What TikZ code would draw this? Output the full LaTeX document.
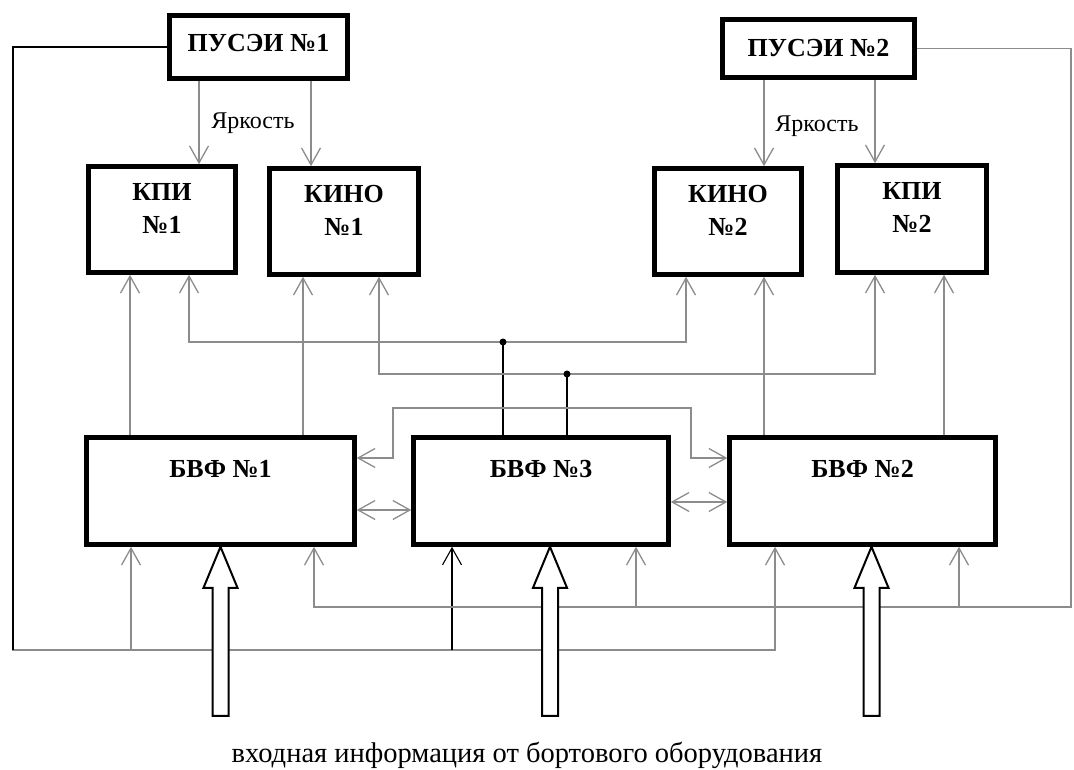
\documentclass[tikz,border=0pt]{standalone}
\usepackage{fontspec}
\setmainfont{Liberation Serif}
\usetikzlibrary{arrows.meta,calc}
\definecolor{wiregray}{RGB}{140,140,140}
\tikzset{
  blk/.style={draw=black,line width=4.6pt,fill=white,inner sep=0pt,
    align=center,font=\bfseries\fontsize{26}{33}\selectfont},
  twoline/.style={text width=130pt,text height=18pt,text depth=56pt},
  oneline/.style={text height=18pt,text depth=46pt},
  wire/.style={draw=wiregray,line width=1.3pt},
  wirek/.style={draw=black,line width=1.1pt},
  arr/.style={-{Straight Barb[length=17pt,width=19pt]}},
  darr/.style={{Straight Barb[length=17pt,width=19pt]}-{Straight Barb[length=17pt,width=19pt]}},
  lab/.style={font=\fontsize{24}{28}\selectfont,anchor=base,inner sep=0pt},
  bigin/.style={draw=black,line width=2pt,fill=white,line join=miter}
}
\begin{document}
\begin{tikzpicture}[x=1pt,y=-1pt]
  \useasboundingbox (0,0) rectangle (1074,770);
  % control panels
  \node[blk,minimum width=178pt,minimum height=63pt,text height=18pt,text depth=8pt] (pusA) at (258.5,47) {ПУСЭИ №1};
  \node[blk,minimum width=192pt,minimum height=58pt,text height=18pt,text depth=1pt] (pusB) at (818.5,48.5) {ПУСЭИ №2};
  % indicators
  \node[blk,twoline,minimum width=147pt,minimum height=106pt] (kpiA) at (162,219.5) {КПИ\\№1};
  \node[blk,twoline,minimum width=149pt,minimum height=106pt] (kinoA) at (344,221.5) {КИНО\\№1};
  \node[blk,twoline,minimum width=147pt,minimum height=106pt] (kinoB) at (728,221.5) {КИНО\\№2};
  \node[blk,twoline,minimum width=149pt,minimum height=107pt] (kpiB) at (912,219) {КПИ\\№2};
  % formers
  \node[blk,oneline,minimum width=268pt,minimum height=107pt] (bvfA) at (220.5,491) {БВФ №1};
  \node[blk,oneline,minimum width=255pt,minimum height=107pt] (bvfC) at (541,491) {БВФ №3};
  \node[blk,oneline,minimum width=266pt,minimum height=107pt] (bvfB) at (862.5,491) {БВФ №2};

  % brightness
  \draw[wire,arr] (199,0 |- pusA.south) -- (199,0 |- kpiA.north);
  \draw[wire,arr] (311,0 |- pusA.south) -- (311,0 |- kinoA.north);
  \draw[wire,arr] (764,0 |- pusB.south) -- (764,0 |- kinoB.north);
  \draw[wire,arr] (875,0 |- pusB.south) -- (875,0 |- kpiB.north);
  \node[lab] (brA) at (253,129) {Яркость};
  \node[lab] (brB) at (817,132) {Яркость};

  % outer buses from the panels
  \coordinate (cnrA) at (13,650);
  \coordinate (cnrB) at (1071,607);
  \draw[wire,arr] (pusA.west) -| (cnrA) -| (775,0 |- bvfB.south);
  \draw[wirek] (pusA.west) -| (cnrA);
  \draw[wire,arr] (131,0 |- cnrA) -- (131,0 |- bvfA.south);
  \draw[wirek,arr] (452,0 |- cnrA) -- (452,0 |- bvfC.south);
  \draw[wire,arr] (pusB.east) -| (cnrB) -| (314,0 |- bvfA.south);
  \draw[wire,arr] (636,0 |- cnrB) -- (636,0 |- bvfC.south);
  \draw[wire,arr] (959,0 |- cnrB) -- (959,0 |- bvfB.south);

  % formers to indicators
  \draw[wire,arr] (130,0 |- bvfA.north) -- (130,0 |- kpiA.south);
  \draw[wire,arr] (303,0 |- bvfA.north) -- (303,0 |- kinoA.south);
  \draw[wire,arr] (764,0 |- bvfB.north) -- (764,0 |- kinoB.south);
  \draw[wire,arr] (944,0 |- bvfB.north) -- (944,0 |- kpiB.south);
  \coordinate (jA) at (503,342);
  \coordinate (jB) at (567,374);
  \draw[wirek] (503,0 |- bvfC.north) -- (jA);
  \draw[wirek] (567,0 |- bvfC.north) -- (jB);
  \draw[wire,arr] (jA) -| (189,0 |- kpiA.south);
  \draw[wire,arr] (jA) -| (686,0 |- kinoB.south);
  \draw[wire,arr] (jB) -| (379,0 |- kinoA.south);
  \draw[wire,arr] (jB) -| (875,0 |- kpiB.south);
  \fill (jA) circle (3.5pt) (jB) circle (3.5pt);

  % links between formers
  \draw[wire,darr] (bvfA.east |- 0,458) -| (393,408) -| (691,458) -- (bvfB.west |- 0,458);
  \draw[wire,darr] (bvfA.east |- 0,510) -- (bvfC.west |- 0,510);
  \draw[wire,darr] (bvfC.east |- 0,502) -- (bvfB.west |- 0,502);

  % input from onboard equipment
  \foreach \bu/\sh in {bvfA/0,bvfC/9,bvfB/9}
    \draw[bigin] ([xshift=\sh pt]\bu.south) -- ++(17,41) -- ++(-9,0) -- ++(0,128)
      -- ++(-16,0) -- ++(0,-128) -- ++(-9,0) -- cycle;
  \node[font=\fontsize{28.5}{31}\selectfont,anchor=base,inner sep=0pt] (inlab) at (527,762)
    {входная информация от бортового оборудования};
\end{tikzpicture}
\end{document}
